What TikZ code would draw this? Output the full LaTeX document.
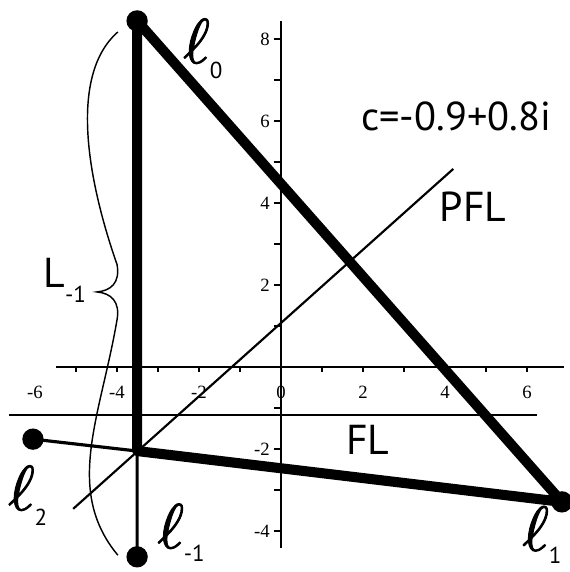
\documentclass[tikz,border=0pt]{standalone}
\usepackage{fontspec}
\newfontfamily\labfont{PT Sans}
\newfontfamily\tickfont{Liberation Serif}
\newfontfamily\ellfont[FakeBold=1.6]{Latin Modern Math}
\usetikzlibrary{calc}

\newcommand{\ellbig}{{\ellfont\fontsize{44}{44}\selectfont ℓ}}
\newcommand{\lsub}[2][-11pt]{\raisebox{#1}{\fontsize{16}{16}\selectfont\labfont #2}}

\begin{document}
\begin{tikzpicture}[
  every node/.style = {inner sep=0pt},
  axisline/.style = {line width=1.3pt},
  tickline/.style = {line width=1.1pt},
  guide/.style    = {line width=1.5pt},
  arm/.style      = {line width=2.2pt},
  heavy/.style    = {line width=7pt, line join=round},
  brace/.style    = {line width=1pt},
  dot/.style      = {circle, fill=black, minimum size=0.52cm, inner sep=0pt},
  num/.style      = {font=\tickfont\fontsize{13}{13}\selectfont},
  lab/.style      = {font=\labfont\fontsize{29}{30}\selectfont},
]
\useasboundingbox (-6.854,-5.0) rectangle (7.024,8.95);

% vertical through the corner
\def\xv{-3.51}

% ── AXES ────────────────────────────────────────────────────────────────
\draw[axisline] (-5.49,0) -- (6.9,0);
\draw[axisline] (0,-4.41) -- (0,8.44);
\foreach \x in {-5,-4,-3,-2,-1,1,2,3,4,5,6}
  \draw[tickline] (\x,0) -- (\x,-0.13);
\foreach \y in {-4,-3,-2,-1,1,2,3,4,5,6,7,8}
  \draw[tickline] (0,\y) -- (-0.18,\y);
\foreach \x in {-6,-4,-2,0,2,4,6}
  \node[num] (xl\x) at (\x,-0.62) {\x};
\foreach \y in {-4,-2,2,4,6,8}
  \node[num, anchor=east] (yl\y) at (-0.27,\y) {\y};

% ── FL AND PFL ──────────────────────────────────────────────────────────
\coordinate (flW)  at (-6.63,-1.17);
\coordinate (flE)  at (6.24,-1.17);
\coordinate (pflS) at (-5.07,-3.46);
\coordinate (pflN) at (4.2,4.83);
\draw[guide] (flW) -- (flE);
\draw[guide] (pflS) -- (pflN);

% ── BRACE L_{-1} ────────────────────────────────────────────────────────
\coordinate (bTop) at (-3.98,8.17);
\coordinate (bUp)  at (-4.0,2.5);
\coordinate (bTip) at (-4.49,1.83);
\coordinate (bLo)  at (-4.0,1.15);
\coordinate (bBot) at (-3.98,-4.59);
\draw[brace] (bTop) .. controls (-5.2,7.1) and (-4.7,4.5) .. (bUp)
  .. controls (-3.92,2.05) and (-4.15,1.86) .. (bTip)
  .. controls (-4.15,1.8) and (-3.92,1.6) .. (bLo)
  .. controls (-4.4,-1.2) and (-5.3,-3.0) .. (bBot);

% ── POINTS ──────────────────────────────────────────────────────────────
\coordinate (corner) at (\xv,-2.05);
\node[dot] (l0) at (\xv,8.44) {};
\node[dot] (l1) at (6.85,-3.29) {};
\node[dot] (l2) at (-6.05,-1.76) {};
\node[dot] (lm) at (\xv,-4.63) {};

\draw[arm] (l2.center) -- (corner) -- (lm.center);
\draw[heavy] (l0.center) -- (corner) -- (l1.center) -- cycle;

% ── LABELS ──────────────────────────────────────────────────────────────
\node[lab, font=\labfont\fontsize{28}{30}\selectfont] (cval) at (4.27,6.1)
  {c=-0.9+0.8i};
\node[lab] (tPFL) at (4.68,3.9) {PFL};
\node[lab] (tFL)  at (2.12,-1.78) {FL};
\node[lab, anchor=base west] (tL) at (-5.8,1.95) {L\lsub{-1}};

\node[anchor=base west] (t0) at (-2.39,7.41) {\ellbig\lsub{0}};
\node[anchor=base west] (t2) at (-6.66,-3.49) {\ellbig\lsub{2}};
\node[anchor=base west] (tm) at (-3.02,-4.42) {\ellbig\lsub[-9pt]{-1}};
\node[anchor=base west] (t1) at (5.88,-4.48) {\ellbig\lsub[-9pt]{1}};

\end{tikzpicture}
\end{document}
